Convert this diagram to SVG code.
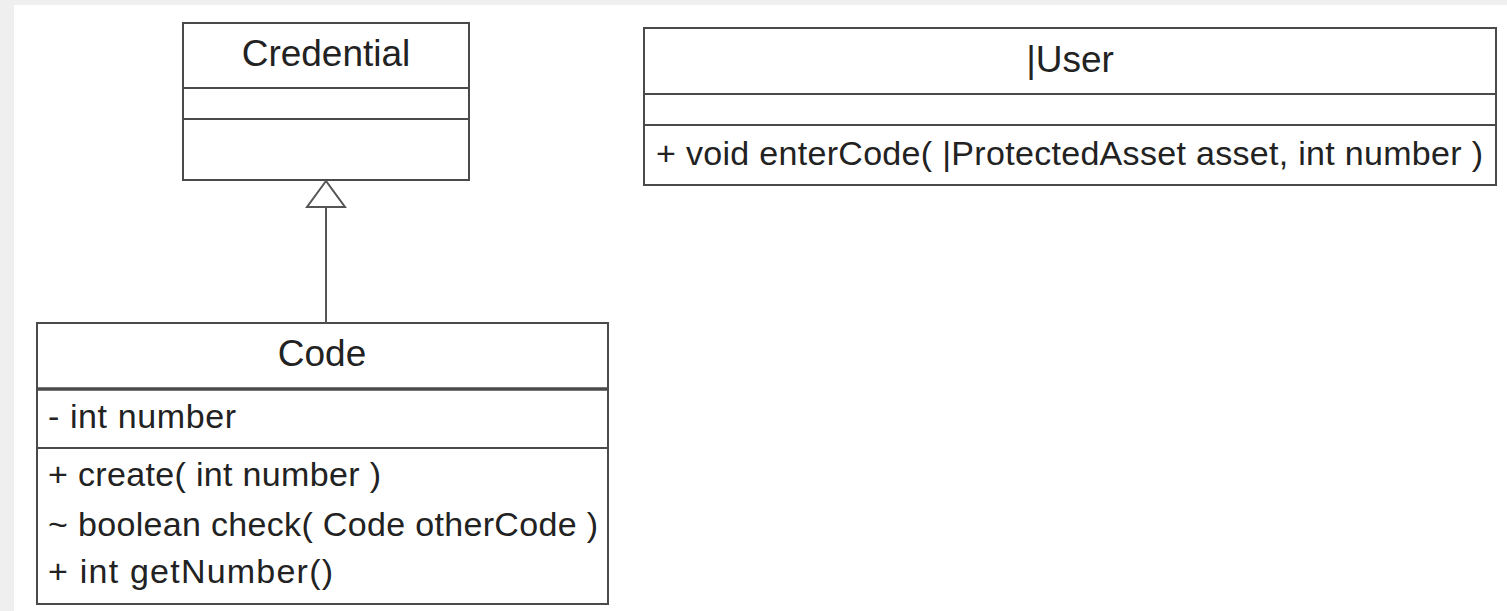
<svg xmlns="http://www.w3.org/2000/svg" width="1507" height="611" viewBox="0 0 1507 611">
<style>
.box{fill:#fff;stroke:#4a4a4a;stroke-width:2}
.div{stroke:#4a4a4a;stroke-width:2}
.title{font-family:"Liberation Sans",Arial,sans-serif;font-size:37px;fill:#222;text-anchor:middle}
.mem{font-family:"Liberation Sans",Arial,sans-serif;font-size:34px;fill:#222}
.conn{stroke:#555;stroke-width:2;fill:none}
</style>
<rect x="0" y="0" width="1507" height="611" fill="#efefef"/>
<rect x="14" y="5" width="1493" height="606" fill="#fff"/>
<g id="Credential">
<rect class="box" x="183" y="23" width="286" height="157"/>
<line class="div" x1="183" y1="88" x2="469" y2="88"/>
<line class="div" x1="183" y1="119" x2="469" y2="119"/>
<text class="title" x="326" y="66">Credential</text>
</g>
<g id="User">
<rect class="box" x="644" y="28" width="852" height="157"/>
<line class="div" x1="644" y1="94" x2="1496" y2="94"/>
<line class="div" x1="644" y1="125" x2="1496" y2="125"/>
<text class="title" x="1070" y="72">|User</text>
<text class="mem" x="656" y="165" textLength="827" lengthAdjust="spacing">+ void enterCode( |ProtectedAsset asset, int number )</text>
</g>
<g id="Code">
<rect class="box" x="37" y="323" width="571" height="281"/>
<line class="div" x1="37" y1="389" x2="608" y2="389" style="stroke-width:3.5"/>
<line class="div" x1="37" y1="448" x2="608" y2="448"/>
<text class="title" x="322" y="366">Code</text>
<text class="mem" x="48" y="428" textLength="188" lengthAdjust="spacing">- int number</text>
<text class="mem" x="48" y="486" textLength="333" lengthAdjust="spacing">+ create( int number )</text>
<text class="mem" x="48" y="536" textLength="550" lengthAdjust="spacing">~ boolean check( Code otherCode )</text>
<text class="mem" x="48" y="583" textLength="285" lengthAdjust="spacing">+ int getNumber()</text>
</g>
<g id="connectors">
<line class="conn" x1="326" y1="207" x2="326" y2="323"/>
<polygon class="conn" points="326,181 307,207 345,207" style="fill:#fff"/>
</g>
</svg>
